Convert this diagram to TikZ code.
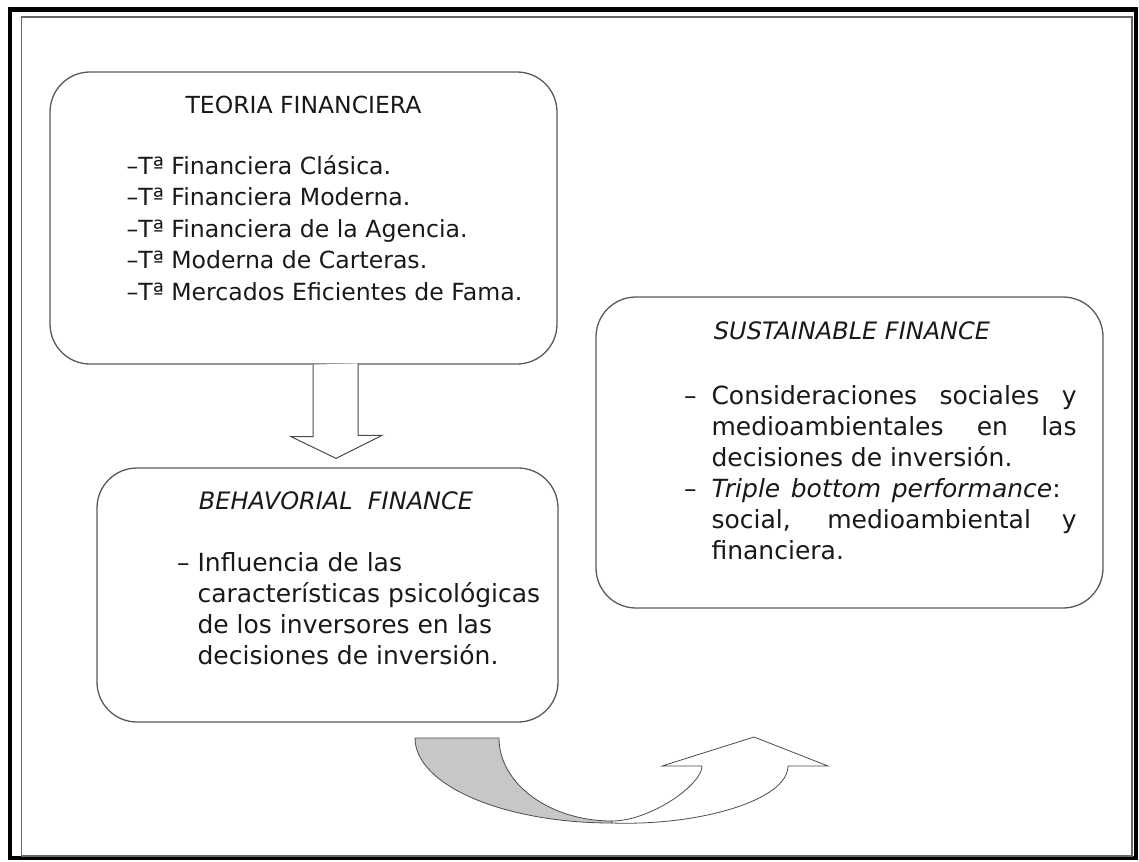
\documentclass[tikz,border=0pt]{standalone}
\usepackage{fontspec}
\setmainfont{DejaVu Sans}
\usetikzlibrary{positioning}

\begin{document}
\begin{tikzpicture}[x=1pt,y=1pt,
	n_box/.style={
		rectangle,
		draw=black!65,
		line width=1.3pt,
		rounded corners=40pt,
		inner sep=0pt,
		},
	n_title/.style={
		anchor=base,
		inner sep=0pt,
		text=black!90,
		font=\fontsize{24}{30}\selectfont\itshape,
		},
	n_text/.style={
		anchor=north west,
		inner sep=0pt,
		align=left,
		text=black!90,
		font=\fontsize{25}{31}\selectfont,
		},
	blockarrow/.style={
		draw=black!70,
		line width=1pt,
		fill=white,
		line join=miter,
		}]

	\useasboundingbox (0,0) rectangle (1139,-861);

	% frame
	\draw[line width=4.5pt] (10,-9.5) rectangle (1136,-858);
	\draw[line width=1.8pt, black!60] (21.5,-17) rectangle (1132,-856);

	% boxes
	\node(teoria)[n_box, minimum width=507pt, minimum height=292pt] at (303.5,-218) {};
	\node(behav)[n_box, minimum width=461pt, minimum height=254pt] at (327.5,-595) {};
	\node(sust)[n_box, minimum width=507pt, minimum height=311pt] at (849.5,-452.5) {};

	% titles
	\node(teoriatitle)[n_title, font=\fontsize{23.5}{30}\selectfont] at ([yshift=-42pt]teoria.north) {TEORIA FINANCIERA};
	\node(behavtitle)[n_title] at ([xshift=8.5pt,yshift=-42pt]behav.north) {BEHAVORIAL\ \ FINANCE};
	\node(susttitle)[n_title] at ([xshift=2.5pt,yshift=-43pt]sust.north) {SUSTAINABLE FINANCE};

	% texts
	\node(teorialist)[n_text, font=\fontsize{23.6}{31.5}\selectfont] at ([xshift=77pt,yshift=-84pt]teoria.north west) {%
		–Tª Financiera Clásica.\\
		–Tª Financiera Moderna.\\
		–Tª Financiera de la Agencia.\\
		–Tª Moderna de Carteras.\\
		–Tª Mercados Eficientes de Fama.};
	\node(behavlist)[n_text] at ([xshift=101pt,yshift=-85pt]behav.north west) {%
		\llap{– }Influencia de las\\
		características psicológicas\\
		de los inversores en las\\
		decisiones de inversión.};
	\node(sustlist)[n_text] at ([xshift=116pt,yshift=-89pt]sust.north west) {%
		\llap{–\hspace{15pt}}\makebox[365pt][s]{Consideraciones sociales y}\\
		\makebox[365pt][s]{medioambientales en las}\\
		decisiones de inversión.\\
		\llap{–\hspace{15pt}}\makebox[365pt][s]{\textit{Triple bottom performance}: }\\
		\makebox[365pt][s]{social, medioambiental y}\\
		financiera.};

	% arrow down
	\draw[blockarrow] ([xshift=9.5pt]teoria.south) -- ++(0,-72) -- ++(-22,0)
		-- ([xshift=8.5pt,yshift=9pt]behav.north) -- ++(46,23) -- ++(-24,0) -- ++(0,72);

	% curved arrow
	\draw[blockarrow, line width=0.8pt, fill=black!22] (415,-738) -- (499,-738)
		.. controls (499,-784) and (550,-821) .. (612,-821) -- (612,-823)
		.. controls (503,-823) and (415,-785) .. (415,-738) -- cycle;
	\draw[blockarrow, line width=0.8pt] (612,-821)
		.. controls (650,-821) and (702,-785) .. (702,-766)
		-- (662,-766) -- (754,-737) -- (828,-766) -- (788,-766)
		.. controls (788,-800) and (700,-826) .. (612,-823) -- cycle;

\end{tikzpicture}
\end{document}
